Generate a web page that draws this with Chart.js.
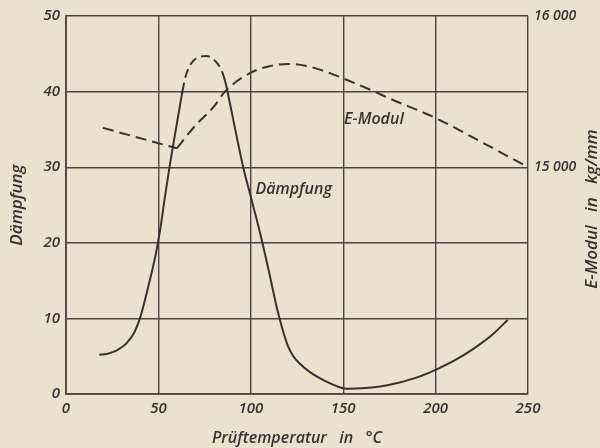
<!DOCTYPE html>
<html>
<head>
<meta charset="utf-8">
<script src="https://cdn.jsdelivr.net/npm/chart.js@4/dist/chart.umd.min.js"></script>
<style>
  html, body { margin: 0; padding: 0; background: #ece1ce; }
  #wrap { width: 600px; height: 448px; }
</style>
</head>
<body>
<div id="wrap"><canvas id="c" width="600" height="448"></canvas></div>
<script>
// Dämpfung (left axis) vs. Prüftemperatur
const daempfungTemp = [18, 22, 26, 29, 32.7, 37.1, 40, 43, 46, 48.5, 51, 53.5, 56.2, 59.6, 63, 64.5, 66.5, 69, 72, 76, 79, 82, 84.5, 86.5, 88.5, 91.4, 95.9, 100.4, 105, 110, 114, 117, 120, 123, 127, 132, 138, 143, 148, 152, 160, 170, 180, 190, 200, 210, 220, 230, 239];
const daempfungValues = [5.2, 5.3, 5.6, 6.0, 6.7, 8.2, 10, 12.7, 15.7, 18.4, 21.8, 26, 30.3, 35.2, 40, 41.8, 43.2, 44.1, 44.6, 44.7, 44.4, 43.7, 42.6, 41, 38.7, 35.2, 30, 25.7, 21.3, 16, 11.5, 8.7, 6.4, 5.0, 3.9, 2.9, 2.0, 1.4, 0.9, 0.7, 0.75, 1.0, 1.5, 2.2, 3.2, 4.4, 5.9, 7.7, 9.8];

// E-Modul (right axis, kg/mm²): straight part, then curved part
const eModulTempStraight = [20, 60];
const eModulStraight = [15260, 15125];
const eModulTempCurve = [60, 70, 80, 86, 100, 110, 120, 130, 140, 150, 166, 175, 200, 225, 250];
const eModulCurve = [15125, 15275, 15400, 15500, 15625, 15668, 15683, 15670, 15635, 15587, 15505, 15455, 15325, 15165, 15000];

// Axis tick labels
const xTicks = [0, 50, 100, 150, 200, 250];
const yLeftTicks = [0, 10, 20, 30, 40, 50];
const yRightTicks = [15000, 16000];

const ink = '#3a3032';
const gridInk = '#4f4244';
const fontFam = "'Open Sans', 'Liberation Sans', sans-serif";

const toXY = (xs, ys) => xs.map((x, i) => ({ x: x, y: ys[i] }));

const bgPlugin = {
  id: 'bg',
  beforeDraw(chart) {
    const ctx = chart.ctx;
    ctx.save();
    ctx.fillStyle = '#ece1ce';
    ctx.fillRect(0, 0, chart.width, chart.height);
    ctx.restore();
  }
};

const labelPlugin = {
  id: 'labels',
  afterDraw(chart) {
    const ctx = chart.ctx;
    const xs = chart.scales.x, ys = chart.scales.y;
    ctx.save();
    ctx.fillStyle = ink;
    ctx.font = "italic 600 16px " + fontFam;
    ctx.textBaseline = 'middle';
    ctx.textAlign = 'left';
    ctx.fillText('E-Modul', xs.getPixelForValue(150.5), ys.getPixelForValue(36.3));
    ctx.fillText('Dämpfung', xs.getPixelForValue(102.5), ys.getPixelForValue(27.1));
    // right axis title, reading bottom to top
    ctx.translate(592, 209);
    ctx.rotate(-Math.PI / 2);
    ctx.textAlign = 'center';
    ctx.font = "italic 600 17px " + fontFam;
    ctx.fillText('E-Modul   in   kg/mm', 0, 0);
    ctx.restore();
  }
};

new Chart(document.getElementById('c'), {
  type: 'line',
  data: {
    datasets: [
      {
        label: 'Dämpfung',
        data: toXY(daempfungTemp, daempfungValues),
        yAxisID: 'y',
        borderColor: ink,
        borderWidth: 2,
        pointRadius: 0,
        fill: false,
        cubicInterpolationMode: 'monotone',
        segment: {
          borderDash: ctx => (ctx.p0.parsed.x >= 63 && ctx.p1.parsed.x <= 84.5) ? [9, 5] : undefined
        }
      },
      {
        label: 'E-Modul',
        data: toXY(eModulTempStraight, eModulStraight),
        yAxisID: 'y2',
        borderColor: ink,
        borderWidth: 2,
        borderDash: [11, 6],
        pointRadius: 0,
        fill: false,
        tension: 0
      },
      {
        label: 'E-Modul (Kurve)',
        data: toXY(eModulTempCurve, eModulCurve),
        yAxisID: 'y2',
        borderColor: ink,
        borderWidth: 2,
        borderDash: [11, 6],
        pointRadius: 0,
        fill: false,
        cubicInterpolationMode: 'monotone'
      }
    ]
  },
  options: {
    responsive: false,
    animation: false,
    layout: { padding: { top: 16, left: 0, right: 0, bottom: 0 } },
    plugins: { legend: { display: false }, tooltip: { enabled: false } },
    scales: {
      x: {
        type: 'linear',
        min: 0, max: 250,
        afterBuildTicks: s => { s.ticks = xTicks.map(v => ({ value: v })); },
        afterFit: s => { s.height = 54; },
        grid: { color: gridInk, lineWidth: 1.4, drawTicks: false },
        border: { color: gridInk, width: 1.8 },
        ticks: { color: ink, padding: 6, font: { family: fontFam, size: 15, style: 'italic', weight: '600' } },
        title: {
          display: true, text: 'Prüftemperatur   in   °C', color: ink,
          padding: { top: 4, bottom: 0 },
          font: { family: fontFam, size: 16, style: 'italic', weight: '600' }
        }
      },
      y: {
        position: 'left',
        min: 0, max: 50,
        afterBuildTicks: s => { s.ticks = yLeftTicks.map(v => ({ value: v })); },
        afterFit: s => { s.width = 66; },
        grid: { color: gridInk, lineWidth: 1.4, drawTicks: false },
        border: { color: gridInk, width: 1.8 },
        ticks: { color: ink, padding: 6, font: { family: fontFam, size: 15, style: 'italic', weight: '600' } },
        title: {
          display: true, text: 'Dämpfung', color: ink,
          padding: { top: 7, bottom: 0 },
          font: { family: fontFam, size: 17, style: 'italic', weight: '600' }
        }
      },
      y2: {
        position: 'right',
        min: 13500, max: 16000,
        afterBuildTicks: s => { s.ticks = yRightTicks.map(v => ({ value: v })); },
        afterFit: s => { s.width = 72; },
        grid: { display: false, drawTicks: false },
        border: { display: false },
        ticks: {
          color: ink, padding: 6,
          font: { family: fontFam, size: 14, style: 'italic', weight: '600' },
          callback: v => String(v).replace(/(\d+)(\d{3})$/, '$1 $2')
        }
      }
    }
  },
  plugins: [bgPlugin, labelPlugin]
});
</script>
</body>
</html>
